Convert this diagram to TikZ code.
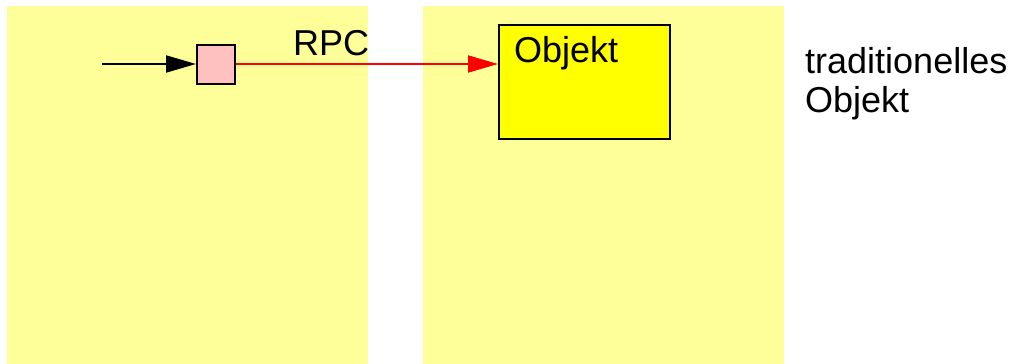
\documentclass[tikz,border=0pt]{standalone}
\usepackage{fontspec}
\setmainfont{Liberation Sans}
\usetikzlibrary{arrows.meta}
\definecolor{panelyellow}{RGB}{255,255,153}
\definecolor{proxypink}{RGB}{255,192,192}
\definecolor{objyellow}{RGB}{255,255,0}
\definecolor{rpcred}{RGB}{255,0,0}
\begin{document}
\begin{tikzpicture}[x=1pt,y=-1pt,
  panel/.style={fill=panelyellow,draw=none},
  lbl/.style={inner sep=0pt,anchor=base west,font=\fontsize{36}{41}\selectfont},
  bigtip/.style={-{Triangle[length=30pt,width=17pt]}}]
\useasboundingbox (0,0) rectangle (1015,364);
\fill[panel] (7,6) rectangle (368,364);
\fill[panel] (423,6) rectangle (784,364);
\node[draw=black,line width=2pt,fill=proxypink,minimum width=38pt,minimum height=39pt,inner sep=0pt] (proxy) at (216,64) {};
\node[draw=black,line width=2pt,fill=objyellow,minimum width=171pt,minimum height=114pt,inner sep=0pt] (obj) at (584.5,82) {};
\coordinate (start) at (102,64);
\draw[bigtip,line width=2pt,draw=black,fill=black] (start) -- (proxy.west);
\draw[bigtip,line width=2pt,draw=rpcred,fill=rpcred] (proxy.east) -- (obj.west |- proxy.east);
\node[lbl] (rpc) at (293,55) {RPC};
\node[lbl] (objtext) at (514,62) {Objekt};
\node[lbl] (trad1) at (805,73) {traditionelles};
\node[lbl] (trad2) at (805,112) {Objekt};
\end{tikzpicture}
\end{document}
